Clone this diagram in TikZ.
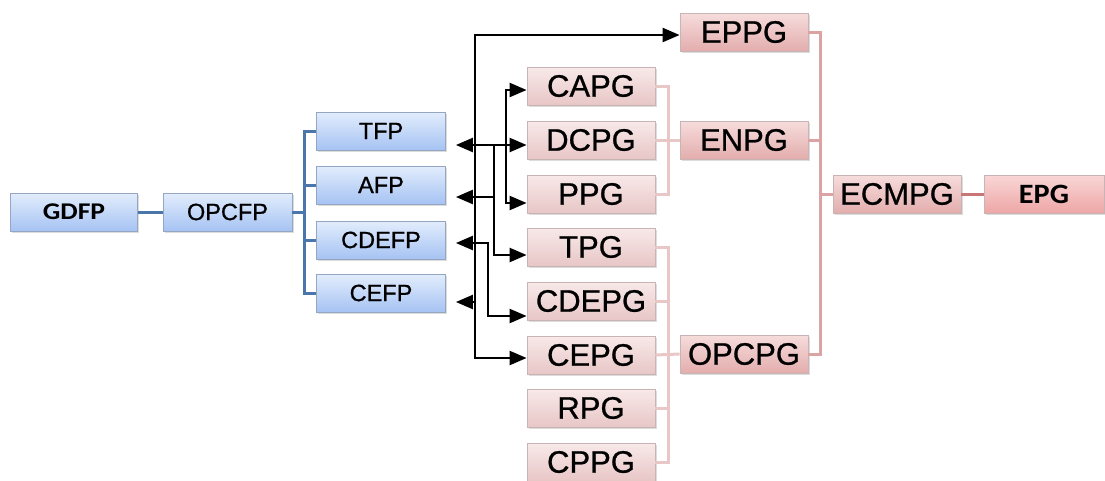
\documentclass[tikz,border=0pt]{standalone}
\usepackage{fontspec}
\setmainfont{Liberation Sans}[FakeBold=0.5]
\newfontfamily\calfont{Carlito}
\usetikzlibrary{arrows.meta,calc,shadows}
\definecolor{bluetop}{HTML}{E2EDFC}
\definecolor{bluebot}{HTML}{A6C3F3}
\definecolor{bluebd}{HTML}{95A6C2}
\definecolor{blueln}{HTML}{4A76AB}
\definecolor{plttop}{HTML}{F8E9E9}
\definecolor{pltbot}{HTML}{E8C6C6}
\definecolor{pdktop}{HTML}{F6DCDC}
\definecolor{pdkbot}{HTML}{E3ADAD}
\definecolor{pepgtop}{HTML}{F9D6D6}
\definecolor{pepgbot}{HTML}{EEA6A6}
\definecolor{pinkbd}{HTML}{C8B4B4}
\definecolor{pinkln}{HTML}{E9C7C7}
\definecolor{pinkmd}{HTML}{DBA3A3}
\definecolor{pinkdk}{HTML}{C97676}
\newcommand{\heavy}{\addfontfeature{FakeBold=0.8}}
\begin{document}
\begin{tikzpicture}[x=1pt,y=-1pt,
  boxbase/.style={rectangle, minimum width=128pt, minimum height=38pt, inner sep=0pt, line width=0.8pt,
    drop shadow={shadow xshift=1.5pt, shadow yshift=-1.5pt, opacity=0.3, fill=black!45}},
  bluebox/.style={boxbase, draw=bluebd, top color=bluetop, bottom color=bluebot, font=\fontsize{23.5}{26}\selectfont\heavy},
  pinklt/.style={boxbase, draw=pinkbd, top color=plttop, bottom color=pltbot, font=\fontsize{31}{34}\selectfont\heavy},
  pinkdkbox/.style={boxbase, draw=pinkbd, top color=pdktop, bottom color=pdkbot, font=\fontsize{31}{34}\selectfont\heavy},
  bconn/.style={draw=blueln, line width=3pt},
  pconnl/.style={draw=pinkln, line width=3pt},
  pconnm/.style={draw=pinkmd, line width=3pt},
  tip/.tip={Triangle[length=17pt 0,width=14pt 0]},
  arr/.style={line width=2.3pt, -tip},
  darr/.style={line width=2.3pt, tip-tip}
]
\useasboundingbox (0,0) rectangle (1105,480);
% blue column
\node[bluebox, minimum width=127pt, font=\calfont\bfseries\fontsize{24}{26}\selectfont] (GDFP) at (74,212) {\scalebox{1.15}[1]{GDFP}};
\node[bluebox, minimum width=129pt] (OPCFP) at (227.5,212) {OPCFP};
\node[bluebox, minimum width=129pt] (TFP) at (381,131) {TFP};
\node[bluebox, minimum width=129pt] (AFP) at (381,185) {AFP};
\node[bluebox, minimum width=129pt] (CDEFP) at (381,240) {CDEFP};
\node[bluebox, minimum width=129pt] (CEFP) at (381,293) {CEFP};
% pink middle column
\node[pinklt] (CAPG) at (591,86) {CAPG};
\node[pinklt] (DCPG) at (591,140) {DCPG};
\node[pinklt] (PPG) at (591,194) {PPG};
\node[pinklt] (TPG) at (591,247) {TPG};
\node[pinklt] (CDEPG) at (591,301) {CDEPG};
\node[pinklt] (CEPG) at (591,355) {CEPG};
\node[pinklt] (RPG) at (591,408) {RPG};
\node[pinklt] (CPPG) at (591,462) {CPPG};
% pink right column
\node[pinkdkbox] (EPPG) at (744,32) {EPPG};
\node[pinkdkbox] (ENPG) at (744,140) {ENPG};
\node[pinkdkbox] (OPCPG) at (744,354) {OPCPG};
\node[pinkdkbox] (ECMPG) at (897,194) {ECMPG};
\node[boxbase, draw=pinkbd, top color=pepgtop, bottom color=pepgbot, minimum width=120pt,
  font=\calfont\bfseries\fontsize{28}{30}\selectfont] (EPG) at (1044,194) {\scalebox{1.08}[1]{EPG}};
% blue connectors
\draw[bconn] (GDFP.east) -- (OPCFP.west);
\draw[bconn] (OPCFP.east) -- ++(12,0);
\draw[bconn] (TFP.west) -- ++(-12,0) |- (CEFP.west);
\draw[bconn] (AFP.west) -- ++(-12,0);
\draw[bconn] (CDEFP.west) -- ++(-12,0);
% pink connectors, middle brackets
\draw[pconnl] (CAPG.east) -- ++(13,0) |- (PPG.east);
\draw[pconnl] (DCPG.east) -- (ENPG.west);
\draw[pconnl] (TPG.east) -- ++(13,0) |- (CPPG.east);
\draw[pconnl] (CDEPG.east) -- ++(13,0);
\draw[pconnl] (CEPG.east) -- (OPCPG.west);
\draw[pconnl] (RPG.east) -- ++(13,0);
% right bracket
\draw[pconnm] (EPPG.east) -- ++(12,0) |- (OPCPG.east);
\draw[pconnm] (ENPG.east) -- ++(12,0);
\draw[pconnm] (ECMPG.west) -- ++(-13,0);
\draw[draw=pinkdk, line width=3pt] (ECMPG.east) -- (EPG.west);
% arrow end points
\coordinate (tTFP) at ($(TFP.east)+(10,14)$);
\coordinate (tAFP) at ($(AFP.east)+(10,12)$);
\coordinate (tCDEFP) at ($(CDEFP.east)+(10,3)$);
\coordinate (tCEFP) at ($(CEFP.east)+(10,9)$);
\coordinate (tEPPG) at ($(EPPG.west)+(0,3)$);
\coordinate (tCAPG) at ($(CAPG.west)+(0,4)$);
\coordinate (tDCPG) at ($(DCPG.west)+(0,5)$);
\coordinate (tPPG) at ($(PPG.west)+(0,9)$);
\coordinate (tTPG) at ($(TPG.west)+(0,8)$);
\coordinate (tCDEPG) at ($(CDEPG.west)+(0,15)$);
\coordinate (tCEPG) at ($(CEPG.west)+(0,3)$);
\coordinate (v1) at (475,0);
\coordinate (v2) at (494,0);
\coordinate (v3) at (506,0);
\coordinate (v4) at (488,0);
% arrows
\draw[darr] (tEPPG) -- (tEPPG -| v1) -- (tCEPG -| v1) -- (tCEPG);
\draw[arr] (tCEFP -| v1) -- (tCEFP);
\draw[darr] (tTFP) -- (tDCPG);
\draw[darr] (tCAPG) -- (tCAPG -| v3) -- (tPPG -| v3) -- (tPPG);
\draw[arr] (tAFP -| v2) -- (tAFP);
\draw[arr] (tTFP -| v2) -- (tTPG -| v2) -- (tTPG);
\draw[darr] (tCDEFP) -- (tCDEFP -| v4) -- (tCDEPG -| v4) -- (tCDEPG);
\end{tikzpicture}
\end{document}
